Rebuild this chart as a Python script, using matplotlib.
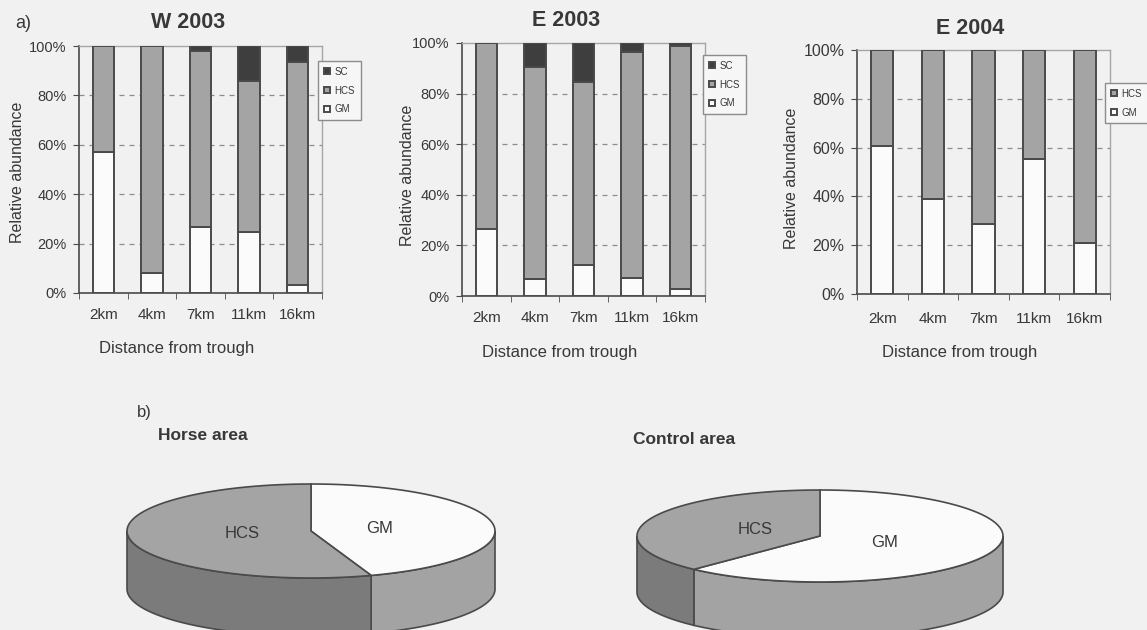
import matplotlib

matplotlib.use("Agg")
import matplotlib.pyplot as plt
from matplotlib.patches import Polygon
import numpy as np


# ---- data ----
distances = ["2km", "4km", "7km", "11km", "16km"]

w2003_gm = [57.2, 8.1, 26.6, 24.5, 3.1]
w2003_hcs = [42.8, 91.9, 71.4, 61.4, 90.4]
w2003_sc = [0.0, 0.0, 2.0, 14.1, 6.5]

e2003_gm = [26.5, 6.6, 12.3, 7.1, 2.8]
e2003_hcs = [73.5, 83.9, 72.3, 89.3, 95.9]
e2003_sc = [0.0, 9.5, 15.4, 3.6, 1.3]

e2004_gm = [60.5, 39.1, 28.7, 55.2, 21.0]
e2004_hcs = [39.5, 60.9, 71.3, 44.8, 79.0]

pie_labels = ["GM", "HCS"]
horse_area = [44.7, 55.3]
control_area = [62.1, 37.9]

# ---- style ----
W, H = 1147, 630
BG = "#f1f1f1"
INK = "#383838"
EDGE = "#4a4a4a"
GM_C = "#fbfbfb"
HCS_C = "#a4a4a4"
SC_C = "#3e3e3e"
GM_SIDE = "#a3a3a3"
HCS_SIDE = "#7b7b7b"

plt.rcParams["font.family"] = ["Liberation Sans", "DejaVu Sans"]
plt.rcParams["text.color"] = INK


def px_rect(left, top, right, bottom):
    return [left / W, 1 - bottom / H, (right - left) / W, (bottom - top) / H]


def fx(x):
    return x / W


def fy(y):
    return 1 - y / H


fig = plt.figure(figsize=(W / 100, H / 100), dpi=100)
fig.patch.set_facecolor(BG)


def bar_panel(rect, title, title_xy, series, legend_xy, ylabel_xy, xlabel_xy,
              tick_size=10.5, xpad=11):
    ax = fig.add_axes(px_rect(*rect))
    ax.set_facecolor(BG)
    x = np.arange(len(distances))
    bottom = np.zeros(len(distances))
    handles = []
    for label, vals, color in series:
        b = ax.bar(x, vals, width=0.44, bottom=bottom, color=color,
                   edgecolor=EDGE, linewidth=1.4, label=label, zorder=3)
        bottom = bottom + np.array(vals)
        handles.append(b)

    ax.set_xlim(-0.5, len(distances) - 0.5)
    ax.set_ylim(0, 100)
    ax.set_yticks(np.arange(0, 101, 20))
    ax.set_yticklabels([f"{v}%" for v in range(0, 101, 20)], fontsize=tick_size)
    ax.set_xticks(x)
    ax.set_xticklabels(distances, fontsize=11)
    ax.set_xticks(np.arange(-0.5, len(distances), 1), minor=True)
    ax.tick_params(axis="x", which="major", length=0, pad=xpad, colors=INK)
    ax.tick_params(axis="x", which="minor", length=4, direction="out", color=EDGE)
    ax.tick_params(axis="y", length=4, direction="out", color=EDGE, pad=5, colors=INK)

    for yv in range(20, 100, 20):
        ax.axhline(yv, color="#8c8c8c", lw=0.9, ls=(0, (4, 4)), zorder=1)
    ax.spines[["left", "bottom"]].set_color(EDGE)
    ax.spines[["left", "bottom"]].set_linewidth(1.2)
    ax.spines[["top", "right"]].set_color("#a6a6a6")
    ax.spines[["top", "right"]].set_linewidth(1.0)

    fig.text(fx(title_xy[0]), fy(title_xy[1]), title, fontsize=15.5,
             fontweight="bold", ha="center", va="center")
    fig.text(fx(ylabel_xy[0]), fy(ylabel_xy[1]), "Relative abundance",
             fontsize=11.5, rotation=90, ha="center", va="center")
    fig.text(fx(xlabel_xy[0]), fy(xlabel_xy[1]), "Distance from trough",
             fontsize=12, ha="center", va="center")

    fig.legend(handles[::-1], [h.get_label() for h in handles[::-1]],
               loc="upper left", bbox_to_anchor=(fx(legend_xy[0]), fy(legend_xy[1])),
               borderaxespad=0, fontsize=7, handlelength=0.6, handleheight=0.6,
               handletextpad=0.5, labelspacing=0.9, borderpad=0.6, frameon=True,
               fancybox=False, facecolor="#f6f6f6", edgecolor="#8c8c8c",
               framealpha=1)
    return ax


bar_panel((79, 46, 322, 293), "W 2003", (188, 23),
          [("GM", w2003_gm, GM_C), ("HCS", w2003_hcs, HCS_C), ("SC", w2003_sc, SC_C)],
          legend_xy=(318, 61), ylabel_xy=(18, 172), xlabel_xy=(177, 348))
bar_panel((462, 43, 705, 296), "E 2003", (566, 20),
          [("GM", e2003_gm, GM_C), ("HCS", e2003_hcs, HCS_C), ("SC", e2003_sc, SC_C)],
          legend_xy=(703, 55), ylabel_xy=(407, 175), xlabel_xy=(560, 352))
bar_panel((857, 50, 1110, 294), "E 2004", (970, 29),
          [("GM", e2004_gm, GM_C), ("HCS", e2004_hcs, HCS_C)],
          legend_xy=(1105, 83), ylabel_xy=(792, 178), xlabel_xy=(960, 352),
          tick_size=11.5, xpad=13)

fig.text(fx(15), fy(24), "a)", fontsize=13, ha="left", va="center")
fig.text(fx(137), fy(412), "b)", fontsize=12, ha="left", va="center")
fig.text(fx(158), fy(435), "Horse area", fontsize=12.5, fontweight="bold",
         ha="left", va="center")
fig.text(fx(633), fy(440), "Control area", fontsize=12.5, fontweight="bold",
         ha="left", va="center")


# ---- 3D pies ----
axp = fig.add_axes([0, 0, 1, 1])
axp.set_xlim(0, W)
axp.set_ylim(H, 0)
axp.axis("off")
axp.patch.set_alpha(0)


def pie3d(ax, values, labels, tops, sides, cx, cy, rx, ry, depth):
    vals = np.array(values, dtype=float)
    edges = np.concatenate([[0], np.cumsum(vals) / vals.sum() * 360])

    def pts(a0, a1, dy=0.0, n=80):
        th = np.linspace(a0, a1, n)
        phi = np.radians(90 - th)
        return np.column_stack([cx + rx * np.cos(phi), cy - ry * np.sin(phi) + dy])

    # side walls on the front half (90..270 degrees clockwise from top)
    for i in range(len(vals)):
        lo, hi = max(edges[i], 90), min(edges[i + 1], 270)
        if hi > lo:
            top = pts(lo, hi)
            bot = pts(lo, hi, depth)[::-1]
            ax.add_patch(Polygon(np.vstack([top, bot]), closed=True,
                                 facecolor=sides[i], edgecolor=EDGE, lw=1.2))
    # top faces
    for i in range(len(vals)):
        arc = pts(edges[i], edges[i + 1])
        ax.add_patch(Polygon(np.vstack([[cx, cy], arc]), closed=True,
                             facecolor=tops[i], edgecolor=EDGE, lw=1.2))
        mid = np.radians(90 - (edges[i] + edges[i + 1]) / 2)
        ax.text(cx + 0.38 * rx * np.cos(mid), cy - 0.38 * ry * np.sin(mid),
                labels[i], fontsize=12, ha="center", va="center", color=INK)


pie3d(axp, horse_area, pie_labels, [GM_C, HCS_C], [GM_SIDE, HCS_SIDE],
      cx=311, cy=531, rx=184, ry=47, depth=58)
pie3d(axp, control_area, pie_labels, [GM_C, HCS_C], [GM_SIDE, HCS_SIDE],
      cx=820, cy=536, rx=183, ry=46, depth=56)

fig.savefig("out.png", dpi=100, facecolor=BG)
plt.close(fig)
